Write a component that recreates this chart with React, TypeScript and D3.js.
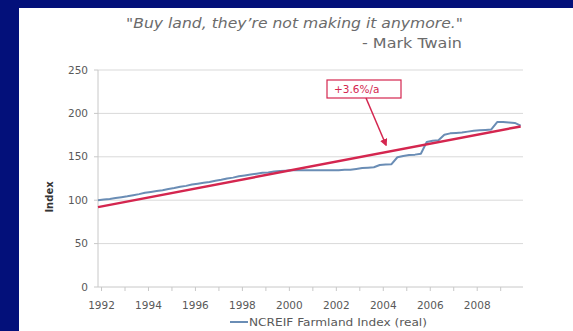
import React from 'react';
import * as d3 from 'd3';

const W = 573;
const H = 331;

// Quarterly NCREIF Farmland Index (real), first point at start of 1992
const firstQuarterYear = 1991.85;
const indexValues = [
  100, 100.8, 101.5, 102.5, 103.5, 104.5, 105.8, 107,
  108.5, 109.5, 110.5, 111.5, 113, 114, 115.5, 116.5,
  118, 119, 120, 121, 122.5, 123.5, 125, 126,
  127.5, 128.5, 129.5, 130.5, 131.5, 132, 133, 133.5,
  134, 134.5, 134.5, 134.5, 134.5, 134.5, 134.5, 134.5,
  134.5, 134.5, 135, 135, 136, 137, 137.5, 138,
  140.5, 141, 141.5, 149.5, 151, 152, 152.5, 153.5,
  167, 168.5, 169, 175.5, 177, 177.5, 178, 179,
  180, 180.5, 181, 181.5, 190, 190, 189.5, 189, 186,
];

const trendYears = [1991.85, 2009.85];
const trendValues = [92, 185];

const yTicks = [0, 50, 100, 150, 200, 250];
const xTickLabels = ['1992', '1994', '1996', '1998', '2000', '2002', '2004', '2006', '2008'];
const xMinorTicks = [1992, 1993, 1994, 1995, 1996, 1997, 1998, 1999, 2000, 2001, 2002, 2003, 2004, 2005, 2006, 2007, 2008, 2009];

const titleText = '"Buy land, they\u2019re not making it anymore."';
const authorText = '- Mark Twain';
const seriesName = 'NCREIF Farmland Index (real)';
const yAxisTitle = 'Index';
const annotationText = '+3.6%/a';

export default function App() {
  const left = 98;
  const right = 523;
  const top = 70;
  const bottom = 287;
  const font = '"DejaVu Sans", Verdana, sans-serif';

  const x = d3.scaleLinear().domain([1991.85, 2009.95]).range([left, right]);
  const y = d3.scaleLinear().domain([0, 250]).range([bottom, top]);

  const seriesPts: [number, number][] = indexValues.map((v, i) => [firstQuarterYear + i / 4, v]);
  const trendPts: [number, number][] = trendYears.map((t, i) => [t, trendValues[i]]);
  const line = d3
    .line<[number, number]>()
    .x((d) => x(d[0]))
    .y((d) => y(d[1]));

  const seriesColor = '#6a8db5';
  const red = '#d4264f';
  const tickColor = '#595959';

  // annotation arrow
  const boxX = 327;
  const boxY = 80;
  const boxW = 74;
  const boxH = 18;
  const ax1 = 366;
  const ay1 = boxY + boxH;
  const ax2 = 386;
  const ay2 = 145;

  return (
    <svg
      width={W}
      height={H}
      style={{ position: 'absolute', left: 0, top: 0, display: 'block' }}
      fontFamily={font}
    >
      <defs>
        <marker id="arrowHead" viewBox="0 0 10 10" refX="8" refY="5" markerWidth="5" markerHeight="5" orient="auto">
          <path d="M0,0 L10,5 L0,10 z" fill={red} />
        </marker>
      </defs>
      <rect x={0} y={0} width={W} height={H} fill="#03107a" />
      <rect x={19} y={8} width={W - 19} height={H - 8} fill="#ffffff" />

      {/* title */}
      <text x={126} y={28} fontSize={14} fontStyle="italic" fill="#6b6b6b" textLength={337} lengthAdjust="spacingAndGlyphs">
        {titleText}
      </text>
      <text x={362} y={48} fontSize={14} fill="#6b6b6b" textLength={100} lengthAdjust="spacingAndGlyphs">
        {authorText}
      </text>

      {/* gridlines */}
      {yTicks.filter((t) => t > 0).map((t) => (
        <line key={t} x1={left} x2={right} y1={y(t)} y2={y(t)} stroke="#d9d9d9" strokeWidth={1} />
      ))}

      {/* axes */}
      <line x1={left} x2={left} y1={top} y2={bottom} stroke="#c8c8c8" />
      <line x1={left} x2={right} y1={bottom} y2={bottom} stroke="#c8c8c8" />
      {yTicks.map((t) => (
        <g key={'yt' + t}>
          <line x1={left - 4} x2={left} y1={y(t)} y2={y(t)} stroke="#c8c8c8" />
          <text x={left - 10} y={y(t)} dy="0.35em" textAnchor="end" fontSize={10.5} fill={tickColor}>
            {t}
          </text>
        </g>
      ))}
      {xMinorTicks.map((t) => (
        <line key={'xt' + t} x1={x(t)} x2={x(t)} y1={bottom} y2={bottom + 4} stroke="#c8c8c8" />
      ))}
      {xTickLabels.map((l) => (
        <text key={'xl' + l} x={x(+l)} y={309} textAnchor="middle" fontSize={10.5} fill={tickColor}>
          {l}
        </text>
      ))}
      <text
        transform={`translate(53,197) rotate(-90)`}
        textAnchor="middle"
        fontSize={10}
        fontWeight="bold"
        fill="#333333"
      >
        {yAxisTitle}
      </text>

      {/* series */}
      <path d={line(seriesPts) || ''} fill="none" stroke={seriesColor} strokeWidth={2} strokeLinejoin="round" />
      <path d={line(trendPts) || ''} fill="none" stroke={red} strokeWidth={2.5} />

      {/* annotation */}
      <rect x={boxX} y={boxY} width={boxW} height={boxH} fill="#ffffff" stroke={red} strokeWidth={1.2} />
      <text x={boxX + 7} y={boxY + 13} fontSize={10.5} fill={red}>
        {annotationText}
      </text>
      <line x1={ax1} y1={ay1} x2={ax2} y2={ay2} stroke={red} strokeWidth={1.5} markerEnd="url(#arrowHead)" />

      {/* legend */}
      <line x1={230} x2={248} y1={322} y2={322} stroke={seriesColor} strokeWidth={2} />
      <text x={249} y={326} fontSize={11} fill={tickColor} textLength={178} lengthAdjust="spacingAndGlyphs">
        {seriesName}
      </text>
    </svg>
  );
}
